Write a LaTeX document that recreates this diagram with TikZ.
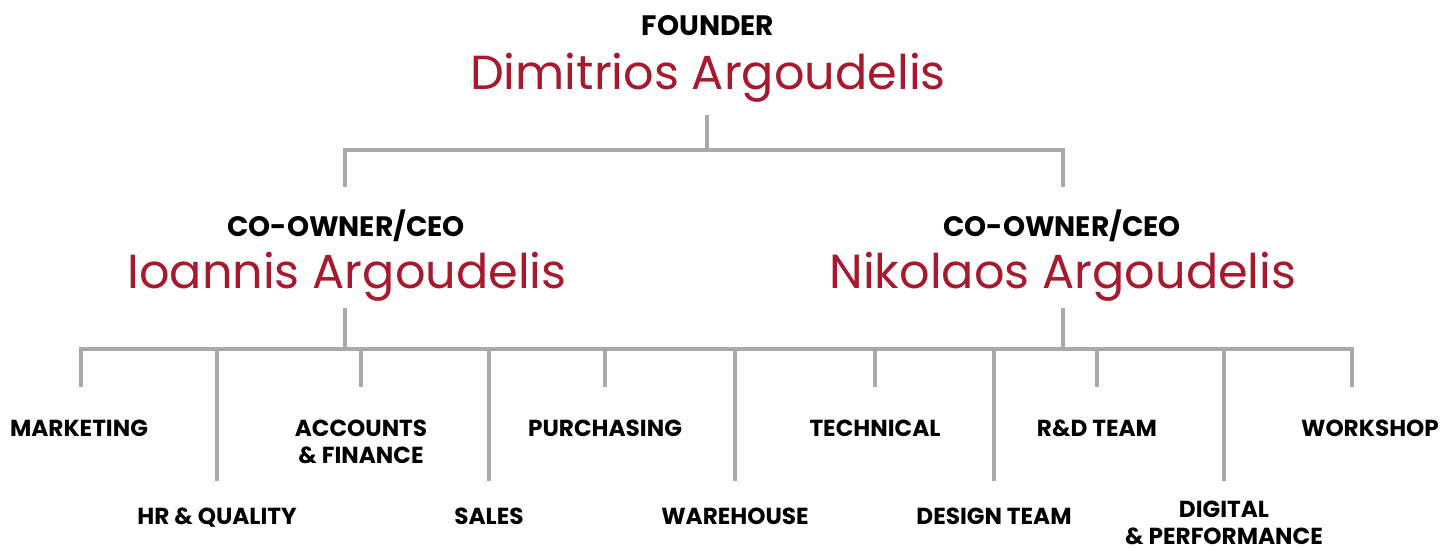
\documentclass[tikz,border=0pt]{standalone}
\usepackage{fontspec}
\setmainfont{Poppins}
\definecolor{argred}{HTML}{A6192E}
\definecolor{linegray}{HTML}{A7A9AC}

\begin{document}
\begin{tikzpicture}[x=0.02cm,y=-0.02cm,
   link/.style={draw=linegray,line width=1.9pt},
   title/.style={anchor=base,inner sep=0pt,font=\bfseries\fontsize{16}{18}\selectfont},
   person/.style={anchor=base,inner sep=0pt,text=argred,font=\fontsize{27.2}{32}\selectfont},
   dept/.style={anchor=base,inner sep=0pt,align=center,font=\bfseries\fontsize{13.2}{15.3}\selectfont}]
   \useasboundingbox (0,0) rectangle (1446,550);

   % founder
   \node[title] (ft) at (708,36) {FOUNDER};
   \node[person] (d) at (708,90) {Dimitrios Argoudelis};

   % co-owners
   \node[title] (it) at (346,237) {CO-OWNER/CEO};
   \node[person] (i) at (347,289) {Ioannis Argoudelis};
   \node[title] (nt) at (1062,237) {CO-OWNER/CEO};
   \node[person] (n) at (1063,289) {Nikolaos Argoudelis};

   % departments (two-line ones sit on their last line)
   \node[dept] (mkt) at (79,436) {MARKETING};
   \node[dept] (hr) at (217,524) {HR \& QUALITY};
   \node[dept] (acc) at (361,463) {ACCOUNTS\\\& FINANCE};
   \node[dept] (sal) at (489,524) {SALES};
   \node[dept] (pur) at (605,436) {PURCHASING};
   \node[dept] (war) at (735,524) {WAREHOUSE};
   \node[dept] (tec) at (875,436) {TECHNICAL};
   \node[dept] (des) at (994,524) {DESIGN TEAM};
   \node[dept] (rnd) at (1097,436) {R\&D TEAM};
   \node[dept] (dig) at (1224,544) {DIGITAL\\\& PERFORMANCE};
   \node[dept] (wor) at (1370,436) {WORKSHOP};

   % connectors
   \coordinate (dTail) at (707,115);
   \coordinate (iTail) at (345,308);
   \coordinate (nTail) at (1063,308);
   \coordinate (topL) at (345,150);
   \coordinate (topR) at (1063,150);
   \coordinate (busL) at (81,349);
   \coordinate (busR) at (1352,349);

   \draw[link] (dTail) -- (dTail |- topL);
   \draw[link] (topL) ++(0,37) -- (topL) -- (topR) -- ++(0,37);
   \draw[link] (iTail) -- (iTail |- busL);
   \draw[link] (nTail) -- (nTail |- busL);
   \draw[link] (busL) ++(0,38) -- (busL) -- (busR) -- ++(0,38);
   \foreach \k/\len in {hr/132,acc/38,sal/132,pur/38,war/132,tec/38,des/132,rnd/38,dig/132}
      \draw[link] (busL -| \k) -- ++(0,\len);
\end{tikzpicture}
\end{document}
